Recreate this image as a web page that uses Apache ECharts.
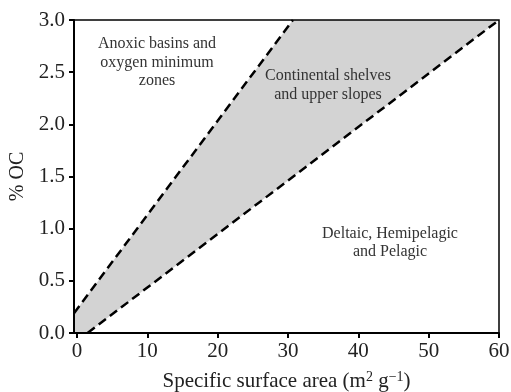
<!DOCTYPE html>
<html>
<head>
<meta charset="utf-8">
<script src="https://cdn.jsdelivr.net/npm/echarts@6/dist/echarts.min.js"></script>
<style>
html,body{margin:0;padding:0;background:#fff;}
#chart{width:511px;height:392px;}
</style>
</head>
<body>
<div id="chart"></div>
<script>
// ---- data ----
var xMin = -0.43, xMax = 60;
var yMin = 0, yMax = 3.0;
var xTickValues = [0, 10, 20, 30, 40, 50, 60];
var upperLine = [[-0.43, 0.19], [30.7, 3.0]];
var lowerLine = [[1.5, 0.0], [60, 3.0]];
var regionLabels = [
  'Anoxic basins and\noxygen minimum\nzones',
  'Continental shelves\nand upper slopes',
  'Deltaic, Hemipelagic\nand Pelagic'
];
var xName = 'Specific surface area (m{sup|2} g{sup|\u22121})';
var yName = '% OC';

// shaded region vertices built from the boundary lines
var shadeRegion = [[xMin, yMin]].concat(lowerLine, upperLine.slice().reverse());

var FONT = '"Liberation Serif", "Times New Roman", serif';
var chart = echarts.init(document.getElementById('chart'));
var labelStyle = function (txt, lh) {
  return {text: txt, textAlign: 'center', textVerticalAlign: 'top', verticalAlign: 'top',
    fill: '#333', fontSize: 16, fontFamily: FONT, lineHeight: lh};
};
var option = {
  animation: false,
  backgroundColor: '#fff',
  grid: {left: 74, right: 12, top: 20, bottom: 59, outerBoundsMode: 'none', containLabel: false,
    show: true, borderColor: '#000', borderWidth: 1.5, z: 5},
  xAxis: {
    type: 'value', min: xMin, max: xMax, z: 5,
    axisLine: {onZero: false, lineStyle: {color: '#000', width: 2}},
    axisTick: {show: true, length: 5, lineStyle: {color: '#000', width: 2}, customValues: xTickValues},
    axisLabel: {color: '#222', fontSize: 21, fontFamily: FONT, margin: 8, customValues: xTickValues},
    splitLine: {show: false},
    name: xName, nameLocation: 'middle', nameGap: 37,
    nameTextStyle: {color: '#222', fontSize: 21, fontFamily: FONT,
      rich: {sup: {fontSize: 14, fontFamily: FONT, color: '#222', padding: [0, 0, 9, 0]}}}
  },
  yAxis: {
    type: 'value', min: yMin, max: yMax, interval: 0.5, z: 5,
    axisLine: {onZero: false, lineStyle: {color: '#000', width: 2}},
    axisTick: {show: true, length: 5, lineStyle: {color: '#000', width: 2}},
    axisLabel: {color: '#222', fontSize: 21, fontFamily: FONT, margin: 9,
      formatter: function (v) { return v.toFixed(1); }},
    splitLine: {show: false},
    name: yName, nameLocation: 'middle', nameGap: 46, nameRotate: 90,
    nameTextStyle: {color: '#222', fontSize: 20, fontFamily: FONT}
  },
  series: [
    {
      type: 'custom', z: 1, silent: true,
      data: [0],
      renderItem: function (params, api) {
        var pts = shadeRegion.map(function (p) { return api.coord(p); });
        return {type: 'polygon', shape: {points: pts}, style: {fill: '#d3d3d3'}};
      }
    },
    {
      type: 'line', z: 3, data: upperLine, symbol: 'none', silent: true,
      lineStyle: {color: '#000', width: 2.5, type: [9, 5]}
    },
    {
      type: 'line', z: 3, data: lowerLine, symbol: 'none', silent: true,
      lineStyle: {color: '#000', width: 2.5, type: [9, 5]}
    }
  ],
  graphic: [
    {type: 'text', x: 157, y: 35, z: 10, style: labelStyle(regionLabels[0], 18.5)},
    {type: 'text', x: 328, y: 66.5, z: 10, style: labelStyle(regionLabels[1], 19)},
    {type: 'text', x: 390, y: 224.5, z: 10, style: labelStyle(regionLabels[2], 18.5)}
  ]
};
chart.setOption(option);
</script>
</body>
</html>
